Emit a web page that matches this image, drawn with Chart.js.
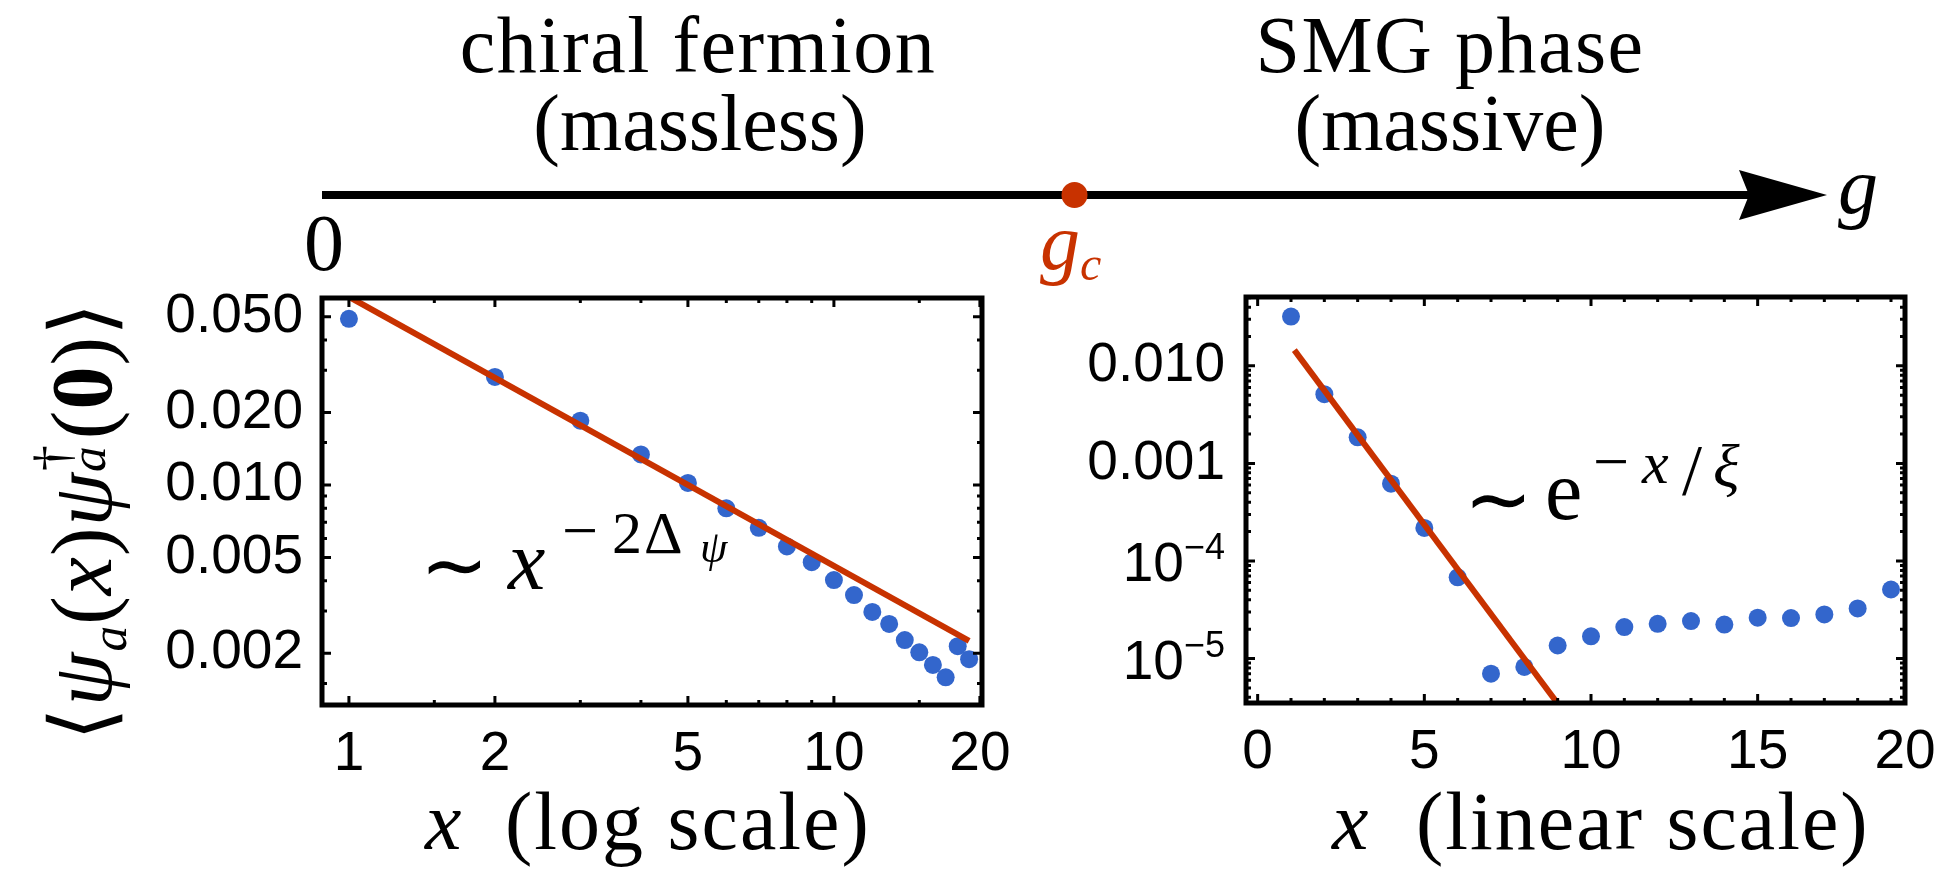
<!DOCTYPE html>
<html>
<head>
<meta charset="utf-8">
<title>Chiral fermion vs SMG phase correlators</title>
<script src="https://cdn.jsdelivr.net/npm/chart.js@4.4.1/dist/chart.umd.min.js"></script>
<style>
  html, body { margin: 0; padding: 0; background: #fff; }
  body { position: relative; width: 1935px; height: 871px; overflow: hidden;
         font-family: 'Liberation Serif', serif; color: #000; }
  canvas { position: absolute; }
  .t { position: absolute; white-space: nowrap; line-height: 1; }
  .c { transform: translateX(-50%); }
  .red { color: #C83200; }
  #ytitle { position: absolute; left: 75px; top: 521px; font-size: 86px; line-height: 1;
            white-space: nowrap; letter-spacing: 1px; transform: translate(-50%, -50%) rotate(-90deg); }
  #ytitle sub { font-size: 0.6em; vertical-align: -0.3em; line-height: 0; }
  #ytitle .ss { display: inline-block; position: relative; width: 0.38em; height: 1em; }
  #ytitle .sp { position: absolute; left: 0.02em; top: 0.02em; font-size: 0.6em; }
  #ytitle .sb { position: absolute; left: 0; top: 0.72em; font-size: 0.6em; }
</style>
</head>
<body>
<canvas id="phase" width="1600" height="90" style="left:300px; top:150px"></canvas>
<canvas id="powerLaw" width="870" height="510" style="left:150px; top:288px"></canvas>
<canvas id="expDecay" width="885" height="510" style="left:1050px; top:288px"></canvas>
<div id="ytitle">⟨<i>ψ</i><sub><i>a</i></sub>(<i>x</i>)<i>ψ</i><span class="ss"><span class="sp">†</span><span class="sb"><i>a</i></span></span>(<b>0</b>)⟩</div>
<script>
// phase diagram along g
const phaseLine = [0, 0.95];
const arrowTip = 1;
const gc = 0.5;

// left panel: chiral fermion, x on log scale
const xLeft = [1, 2, 3, 4, 5, 6, 7, 8, 9, 10, 11, 12, 13, 14, 15, 16, 17, 18, 19];
const yLeft = [0.049, 0.0281, 0.0185, 0.0134, 0.0102, 0.0080, 0.00664, 0.00556, 0.00478, 0.00403,
               0.00349, 0.00297, 0.00265, 0.00227, 0.00202, 0.00179, 0.00159, 0.00214, 0.00189];
const fitLeftX = [1, 19];
const fitLeftY = [0.0605, 0.00225];
const xTicksLeft = [1, 2, 5, 10, 20];
const xTickLabelsLeft = ['1', '2', '5', '10', '20'];
const xMinorLeft = [1.5, 3, 4, 6, 7, 8, 9, 15];
const yTicksLeft = [0.002, 0.005, 0.01, 0.02, 0.05];
const yTickLabelsLeft = ['0.002', '0.005', '0.010', '0.020', '0.050'];
const yMinorLeft = [0.0015, 0.003, 0.004, 0.006, 0.007, 0.008, 0.009, 0.015, 0.03, 0.04];

// right panel: SMG phase, x on linear scale
const xRight = [1, 2, 3, 4, 5, 6, 7, 8, 9, 10, 11, 12, 13, 14, 15, 16, 17, 18, 19];
const yRight = [0.032, 0.00513, 0.00185, 0.00062, 0.000218, 0.000068, 0.0000070, 0.0000082, 0.0000136, 0.0000169,
                0.0000210, 0.0000227, 0.0000242, 0.0000223, 0.0000262, 0.0000260, 0.0000283, 0.0000326, 0.0000510];
const fitRightX = [1.1, 9.2];
const fitRightY = [0.0145, 0.0000028];
const xTicksRight = [0, 5, 10, 15, 20];
const xTickLabelsRight = ['0', '5', '10', '15', '20'];
const yTicksRight = [0.00001, 0.0001, 0.001, 0.01];
const yTickLabelsRight = ['10^-5', '10^-4', '0.001', '0.010'];

const pointColor = '#3366CC';
const fitColor = '#C83200';
const sansFamily = "'Liberation Sans', Arial, sans-serif";
const tickFont = { family: sansFamily, size: 55 };

const toPoints = (xs, ys) => xs.map((x, i) => ({ x: x, y: ys[i] }));

// frame with inward ticks on all four sides, placed through the scales
const frameTicks = {
    id: 'frameTicks',
    afterDraw(chart, args, opts) {
        const { ctx, chartArea: a } = chart;
        const xs = chart.scales.x, ys = chart.scales.y;
        ctx.save();
        ctx.strokeStyle = '#000';
        ctx.lineWidth = 3;
        const mark = (vals, len, scale, horiz) => {
            vals.forEach((v) => {
                const p = scale.getPixelForValue(Math.min(Math.max(v, scale.min), scale.max));
                ctx.beginPath();
                if (horiz) {
                    ctx.moveTo(p, a.bottom); ctx.lineTo(p, a.bottom - len);
                    ctx.moveTo(p, a.top); ctx.lineTo(p, a.top + len);
                } else {
                    ctx.moveTo(a.left, p); ctx.lineTo(a.left + len, p);
                    ctx.moveTo(a.right, p); ctx.lineTo(a.right - len, p);
                }
                ctx.stroke();
            });
        };
        mark(opts.xMajor, 9, xs, true);
        mark(opts.xMinor, 5, xs, true);
        mark(opts.yMajor, 9, ys, false);
        mark(opts.yMinor, 5, ys, false);
        ctx.lineWidth = 5;
        ctx.strokeRect(a.left, a.top, a.right - a.left, a.bottom - a.top);
        ctx.restore();
    }
};

// y tick labels written as "10^-4" get a raised exponent
const powerLabels = {
    id: 'powerLabels',
    afterDraw(chart, args, opts) {
        const { ctx, chartArea: a } = chart;
        const ys = chart.scales.y;
        ctx.save();
        ctx.fillStyle = '#000';
        ctx.textBaseline = 'alphabetic';
        ctx.textAlign = 'left';
        ys.ticks.forEach((t) => {
            if (!t.label || t.label.indexOf('^') < 0) return;
            const [base, exp] = t.label.split('^');
            const expText = exp.replace('-', '\u2212');
            const py = ys.getPixelForValue(t.value);
            ctx.font = '36px ' + sansFamily;
            const ew = ctx.measureText(expText).width;
            ctx.font = '55px ' + sansFamily;
            const bw = ctx.measureText(base).width;
            const right = a.left - opts.pad;
            const baseline = py + 20;
            ctx.fillText(base, right - ew - bw, baseline);
            ctx.font = '36px ' + sansFamily;
            ctx.fillText(expText, right - ew, baseline - 22);
        });
        ctx.restore();
    }
};

function fixTicks(values, labels) {
    return {
        afterBuildTicks: (scale) => {
            scale.ticks = values.map((v) => ({ value: Math.min(v, scale.max) }));
        },
        callback: (value, index) => labels[index]
    };
}

function panel(id, cfg) {
    const xt = fixTicks(cfg.xTicks, cfg.xLabels);
    const yt = fixTicks(cfg.yTicks, cfg.yLabels);
    new Chart(document.getElementById(id), {
        type: 'scatter',
        data: {
            datasets: [{
                data: toPoints(cfg.fitX, cfg.fitY),
                showLine: true,
                borderColor: fitColor,
                borderWidth: 6,
                pointRadius: 0
            }, {
                data: toPoints(cfg.x, cfg.y),
                pointRadius: 9,
                pointBackgroundColor: pointColor,
                pointBorderWidth: 0
            }]
        },
        plugins: [frameTicks, powerLabels],
        options: {
            responsive: false,
            animation: false,
            layout: { padding: cfg.padding },
            plugins: {
                legend: { display: false },
                tooltip: { enabled: false },
                frameTicks: { xMajor: cfg.xTicks, xMinor: cfg.xMinor, yMajor: cfg.yTicks, yMinor: cfg.yMinor },
                powerLabels: { pad: cfg.yPad }
            },
            scales: {
                x: {
                    type: cfg.xType, min: cfg.xMin, max: cfg.xMax,
                    grid: { display: false, drawTicks: false }, border: { display: false },
                    afterBuildTicks: xt.afterBuildTicks,
                    afterFit: (s) => { s.height = cfg.xAxisHeight; s.paddingLeft = 0; s.paddingRight = 0; },
                    ticks: { autoSkip: false, maxRotation: 0, padding: 17, color: '#000', font: tickFont, callback: xt.callback }
                },
                y: {
                    type: 'logarithmic', min: cfg.yMin, max: cfg.yMax,
                    grid: { display: false, drawTicks: false }, border: { display: false },
                    afterBuildTicks: yt.afterBuildTicks,
                    afterFit: (s) => { s.width = cfg.yAxisWidth; s.paddingTop = 0; s.paddingBottom = 0; },
                    ticks: {
                        autoSkip: false, padding: cfg.yPad, font: tickFont, callback: yt.callback,
                        color: (c) => (c.tick && String(c.tick.label).indexOf('^') >= 0) ? 'rgba(0,0,0,0)' : '#000'
                    }
                }
            }
        }
    });
}

panel('powerLaw', {
    x: xLeft, y: yLeft, fitX: fitLeftX, fitY: fitLeftY,
    xType: 'logarithmic', xMin: 0.88, xMax: 20.2, yMin: 0.00122, yMax: 0.0598,
    xTicks: xTicksLeft, xLabels: xTickLabelsLeft, xMinor: xMinorLeft,
    yTicks: yTicksLeft, yLabels: yTickLabelsLeft, yMinor: yMinorLeft,
    padding: { top: 10, right: 38, left: 0, bottom: 0 },
    xAxisHeight: 93, yAxisWidth: 172, yPad: 19
});

const yMinorRight = [];
[0.000001, 0.00001, 0.0001, 0.001, 0.01].forEach((d) => {
    for (let k = 2; k <= 9; k++) yMinorRight.push(d * k);
});
const xMinorRight = xRight.filter((v) => v % 5 !== 0);

panel('expDecay', {
    x: xRight, y: yRight, fitX: fitRightX, fitY: fitRightY,
    xType: 'linear', xMin: -0.35, xMax: 19.42, yMin: 0.0000035, yMax: 0.0508,
    xTicks: xTicksRight, xLabels: xTickLabelsRight, xMinor: xMinorRight,
    yTicks: yTicksRight, yLabels: yTickLabelsRight, yMinor: yMinorRight,
    padding: { top: 9, right: 30, left: 0, bottom: 0 },
    xAxisHeight: 95, yAxisWidth: 196, yPad: 21
});

// arrowhead at the end of the g axis
const arrowHead = {
    id: 'arrowHead',
    afterDatasetsDraw(chart) {
        const { ctx } = chart;
        const tx = chart.scales.x.getPixelForValue(arrowTip);
        const cy = chart.scales.y.getPixelForValue(0);
        ctx.save();
        ctx.fillStyle = '#000';
        ctx.beginPath();
        ctx.moveTo(tx, cy);
        ctx.lineTo(tx - 88, cy - 25);
        ctx.lineTo(tx - 78, cy);
        ctx.lineTo(tx - 88, cy + 25);
        ctx.closePath();
        ctx.fill();
        ctx.restore();
    }
};

new Chart(document.getElementById('phase'), {
    type: 'scatter',
    data: {
        datasets: [{
            data: [{ x: gc, y: 0 }],
            pointRadius: 13,
            pointBackgroundColor: fitColor,
            pointBorderWidth: 0
        }, {
            data: phaseLine.map((g) => ({ x: g, y: 0 })),
            showLine: true,
            borderColor: '#000',
            borderWidth: 8,
            pointRadius: 0
        }]
    },
    plugins: [arrowHead],
    options: {
        responsive: false,
        animation: false,
        layout: { padding: { left: 22, right: 73, top: 0, bottom: 0 } },
        plugins: { legend: { display: false }, tooltip: { enabled: false } },
        scales: {
            x: { type: 'linear', min: 0, max: 1, display: false },
            y: { type: 'linear', min: -1, max: 1, display: false }
        }
    }
});

// text labels, positioned by baseline (Liberation Serif, line-height 1)
const BASE = 0.8375;
function txt(html, x, base, size, opts = {}) {
    const d = document.createElement('div');
    d.className = 't' + (opts.center ? ' c' : '') + (opts.cls ? ' ' + opts.cls : '');
    d.innerHTML = html;
    d.style.left = x + 'px';
    d.style.top = (base - BASE * size) + 'px';
    d.style.fontSize = size + 'px';
    if (opts.style) Object.assign(d.style, opts.style);
    document.body.appendChild(d);
}

const wide = { letterSpacing: '1.5px' };
txt('chiral fermion', 698, 72, 80, { center: true, style: wide });
txt('(massless)', 700, 150, 80, { center: true });
txt('SMG phase', 1450, 72, 80, { center: true, style: wide });
txt('(massive)', 1450, 150, 80, { center: true });
txt('0', 324, 270, 80, { center: true });
txt('<i>g</i>', 1838, 213, 80);
txt('<i>g</i>', 1040, 269, 80, { cls: 'red' });
txt('<i>c</i>', 1080, 280, 48, { cls: 'red' });

txt('\u223C', 420, 594, 82);
txt('<i>x</i>', 508, 589, 84);
txt('\u2212', 562, 553, 64);
txt('2', 612, 553, 60);
txt('\u0394', 644, 553, 60);
txt('<i>\u03C8</i>', 700, 563, 44);

txt('\u223C', 1464, 528, 82);
txt('e', 1545, 519, 84);
txt('\u2212', 1593, 484, 64);
txt('<i>x</i>', 1642, 483, 60);
txt('/', 1682, 494, 72);
txt('<i>\u03BE</i>', 1713, 487, 62);

txt('<i>x</i>', 425, 850, 82);
txt('(log scale)', 505, 850, 82, { style: { letterSpacing: '2px' } });
txt('<i>x</i>', 1332, 850, 82);
txt('(linear scale)', 1416, 850, 82, { style: { letterSpacing: '2px' } });
</script>
</body>
</html>
